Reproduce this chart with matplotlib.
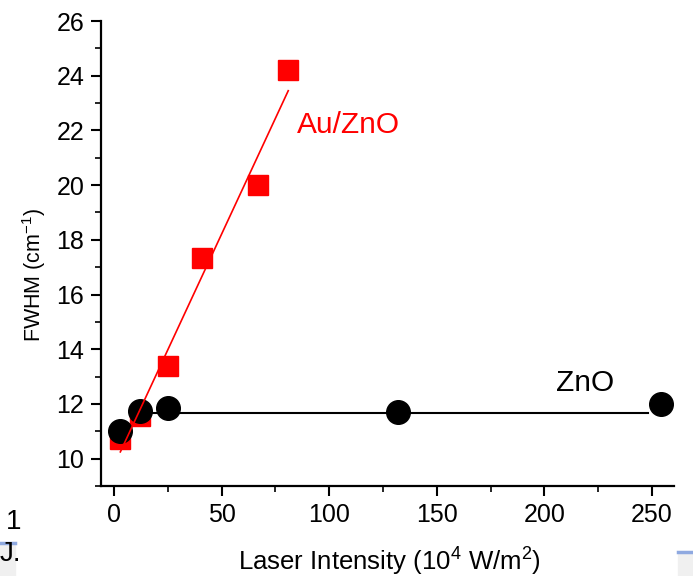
import numpy as np
import matplotlib.pyplot as plt
from matplotlib.lines import Line2D
from matplotlib.patches import Rectangle
from matplotlib.ticker import MultipleLocator

plt.rcParams['font.family'] = ['Liberation Sans', 'DejaVu Sans']
plt.rcParams['mathtext.fontset'] = 'custom'
plt.rcParams['mathtext.rm'] = 'Liberation Sans'

# Au/ZnO (red squares)
au_x = [3, 12, 25, 41, 67, 81]
au_y = [10.7, 11.55, 13.4, 17.35, 20.0, 24.2]

# ZnO (black circles)
zno_x = [3, 12, 25, 132, 254]
zno_y = [11.0, 11.75, 11.85, 11.7, 12.0]

fig = plt.figure(figsize=(6.93, 5.76), dpi=100)
ax = fig.add_axes([0.1457, 0.1563, 0.9726 - 0.1457, 0.9635 - 0.1563])

# ZnO mean line
zno_mean = np.mean(zno_y)
ax.plot([10, 248], [zno_mean, zno_mean], color='black', linewidth=1.5, zorder=2)

ax.plot(au_x, au_y, 's', color='red', markersize=14.5, zorder=3, linestyle='none')
ax.plot(zno_x, zno_y, 'o', color='black', markersize=17, zorder=4, linestyle='none')

# linear fit for Au/ZnO
k, b = np.polyfit(au_x, au_y, 1)
xf = np.array([au_x[0], au_x[-1]])
ax.plot(xf, k * xf + b, color='red', linewidth=1.2, zorder=5)

ax.text(85, 22.2, 'Au/ZnO', color='red', fontsize=21.5, ha='left', va='center')
ax.text(219, 12.75, 'ZnO', color='black', fontsize=21.5, ha='center', va='center')

ax.set_xlim(-6, 260.2)
ax.set_ylim(9, 26)
ax.xaxis.set_major_locator(MultipleLocator(50))
ax.xaxis.set_minor_locator(MultipleLocator(25))
ax.yaxis.set_major_locator(MultipleLocator(2))
ax.yaxis.set_minor_locator(MultipleLocator(1))
ax.set_yticks(range(10, 27, 2))

for s in ['top', 'right']:
    ax.spines[s].set_visible(False)
for s in ['left', 'bottom']:
    ax.spines[s].set_linewidth(1.6)
ax.tick_params(which='major', direction='out', length=7, width=1.5, labelsize=18, pad=5)
ax.tick_params(which='minor', direction='out', length=4, width=1.2)

ax.set_xlabel('Laser Intensity (10$^4$ W/m$^2$)', fontsize=18.5)
ax.xaxis.set_label_coords(0.504, -0.125)
ax.set_ylabel('FWHM (cm$^{-1}$)', fontsize=15.5)
ax.yaxis.set_label_coords(-0.092, 0.455)

# cropped remnants at the edges
fig.text(0.008, 0.093, '1', fontsize=20, ha='left', va='center')
fig.text(0.0, 0.038, 'J.', fontsize=20, ha='left', va='center')
fig.add_artist(Line2D([0, 0.022], [0.058, 0.058], transform=fig.transFigure, color='#8fa9e0', linewidth=2.5))
fig.add_artist(Rectangle((0, 0), 0.022, 0.055, transform=fig.transFigure, color='#f0f0f0', zorder=0))
fig.add_artist(Line2D([0.978, 1.0], [0.042, 0.042], transform=fig.transFigure, color='#8fa9e0', linewidth=2.5))
fig.add_artist(Rectangle((0.978, 0), 0.022, 0.039, transform=fig.transFigure, color='#f0f0f0', zorder=0))

fig.savefig('out.png', dpi=100)
